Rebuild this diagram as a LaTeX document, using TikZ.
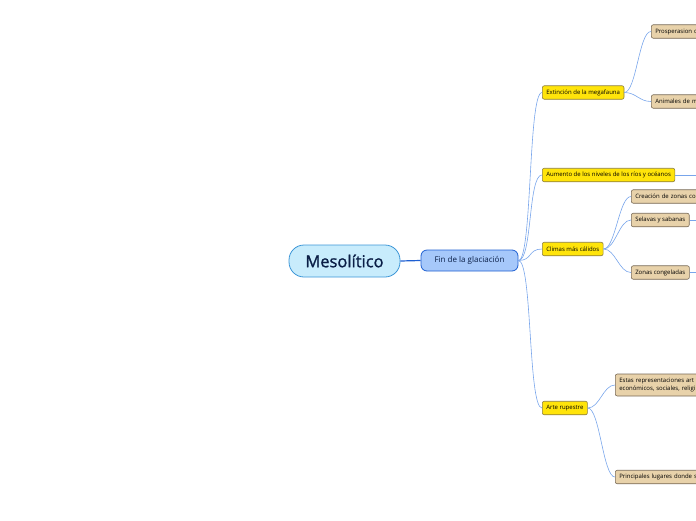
\documentclass[tikz,border=0pt]{standalone}
\usepackage{fontspec}
\setmainfont{Open Sans}
\newfontfamily\rootfont[FakeBold=1.2]{Open Sans}
\usepackage{tikz}
\usetikzlibrary{shapes,arrows,positioning,calc}
\definecolor{rootfill}{RGB}{200,236,252}
\definecolor{rootline}{RGB}{60,150,215}
\definecolor{roottext}{RGB}{10,30,70}
\definecolor{mainfill}{RGB}{166,200,250}
\definecolor{mainline}{RGB}{30,95,210}
\definecolor{subfill}{RGB}{255,228,10}
\definecolor{subline}{RGB}{140,125,60}
\definecolor{leaffill}{RGB}{232,210,170}
\definecolor{leafline}{RGB}{120,105,85}
\definecolor{linkblue}{RGB}{120,165,235}

\begin{document}
\begin{tikzpicture}[x=1pt, y=-1pt,
        root/.style={rectangle, rounded corners=15pt, draw=rootline, thick, fill=rootfill, text=roottext, minimum width=111pt, minimum height=32pt, font=\rootfont\fontsize{16.5}{19}\selectfont},
        main/.style={rectangle, rounded corners=6pt, draw=mainline, thick, fill=mainfill, text=roottext, minimum width=97pt, minimum height=21pt, font=\fontsize{8}{9}\selectfont},
        sub/.style={rectangle, rounded corners=2pt, draw=subline, line width=0.6pt, fill=subfill, minimum height=13.5pt, inner xsep=4pt, inner ysep=1pt, anchor=west, font=\fontsize{6}{7}\selectfont},
        leaf/.style={rectangle, rounded corners=2pt, draw=leafline, line width=0.6pt, fill=leaffill, minimum height=13.5pt, inner xsep=4pt, inner ysep=1.5pt, anchor=west, align=left, font=\fontsize{6}{7.8}\selectfont},
        cut/.style={leaf, text width=100pt},
        link/.style={draw=linkblue, line width=0.6pt},
        trunk/.style={draw=mainline, line width=1.2pt}]

        \useasboundingbox (0,0) rectangle (696,520);
        \clip (0,0) rectangle (696,520);

        % Nodes
        \node[root] (meso) at (344.5,261) {Mesolítico};
        \node[main] (fin) at (469.5,260.5) {Fin de la glaciación};

        \node[sub] (ext) at (542,92.5) {Extinción de la megafauna};
        \node[sub] (aum) at (542,175) {Aumento de los niveles de los ríos y océanos};
        \node[sub] (cli) at (542,249) {Climas más cálidos};
        \node[sub] (art) at (542,408) {Arte rupestre};

        \node[cut] (pros) at (651,31.5) {Prosperasion d};
        \node[cut] (anim) at (651,101.5) {Animales de m};
        \node[cut] (crea) at (631,196.5) {Creación de zonas co};
        \node[leaf] (sel) at (631,220) {Selavas y sabanas};
        \node[leaf] (zon) at (631,272.5) {Zonas congeladas};
        \node[cut, minimum height=22pt] (esta) at (615,385) {Estas representaciones art\\económicos, sociales, religi};
        \node[cut] (prin) at (615,477) {Principales lugares donde s};

        \coordinate (aumout) at (700,175);
        \coordinate (selout) at (700,220);
        \coordinate (zonout) at (700,272.5);

        % Connections
        \draw[trunk] (meso.east) -- (fin.west);
        \foreach \t in {ext,aum,cli,art}
            \draw[link] (fin.east) .. controls +(14,0) and +(-14,0) .. (\t.west);
        \foreach \t in {pros,anim}
            \draw[link] (ext.east) .. controls +(12,0) and +(-12,0) .. (\t.west);
        \foreach \t in {crea,sel,zon}
            \draw[link] (cli.east) .. controls +(12,0) and +(-12,0) .. (\t.west);
        \foreach \t in {esta,prin}
            \draw[link] (art.east) .. controls +(12,0) and +(-12,0) .. (\t.west);
        \draw[link] (aum.east) -- (aumout);
        \draw[link] (sel.east) -- (selout);
        \draw[link] (zon.east) -- (zonout);

    \end{tikzpicture}
\end{document}
